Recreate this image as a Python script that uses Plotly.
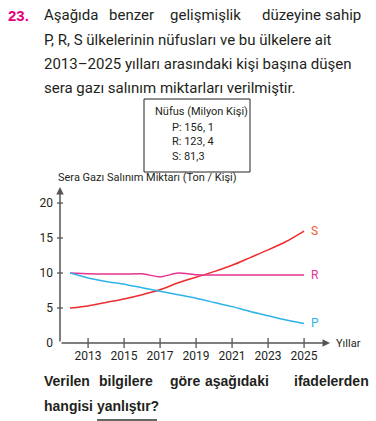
import plotly.graph_objects as go

years = [2012, 2013, 2014, 2015, 2016, 2017, 2018, 2019, 2020, 2021, 2022, 2023, 2024, 2025]
S_vals = [5.0, 5.3, 5.8, 6.3, 6.9, 7.6, 8.6, 9.4, 10.2, 11.1, 12.2, 13.3, 14.5, 16.0]
R_vals = [10.0, 9.9, 9.85, 9.85, 9.9, 9.45, 10.0, 9.75, 9.7, 9.7, 9.7, 9.7, 9.7, 9.7]
P_vals = [10.0, 9.3, 8.8, 8.4, 7.9, 7.4, 6.9, 6.4, 5.8, 5.2, 4.5, 3.9, 3.3, 2.8]
series_names = ["S", "R", "P"]
series_colors = ["#ee2b2e", "#e6338f", "#2eb3e8"]
label_colors = ["#f1592a", "#e6338f", "#2eb3e8"]
y_ticks = [0, 5, 10, 15, 20]
x_ticks = [2013, 2015, 2017, 2019, 2021, 2023, 2025]
pop_lines = ["P: 156, 1", "R: 123, 4", "S: 81,3"]

W, H = 376, 421
L, R_, T, B = 60, 46, 187, 78
PW = W - L - R_
PH = H - T - B
XR = [2011.44, 2026.44]
YR = [0, 22.29]

def px(x):
    return (x - L) / PW

def py(y):
    return (H - B - y) / PH

TXT = "#231f20"
FONT = "Roboto"
BFONT = "Liberation Sans"

fig = go.Figure()
for name, vals, col in zip(series_names, [S_vals, R_vals, P_vals], series_colors):
    fig.add_trace(go.Scatter(x=years, y=vals, mode="lines", line=dict(color=col, width=1.5, shape="spline", smoothing=0.6),
                             showlegend=False, hoverinfo="skip"))

ann = []
shapes = []

def text(x, y, s, size=15, color=TXT, anchor="left", bold=False, family=FONT):
    ann.append(dict(x=px(x), y=py(y), xref="paper", yref="paper", text=("<b>%s</b>" % s) if bold else s,
                    showarrow=False, xanchor=anchor, yanchor="middle",
                    font=dict(size=size, color=color, family=family)))

# header
text(6, 15, "23.", size=15, color="#e5007d", bold=True, family=BFONT)
line1 = [("Aşağıda", 42, "left"), ("benzer", 107, "left"), ("gelişmişlik", 168, "left"),
         ("düzeyine", 260, "left"), ("sahip", 363, "right")]
for w, x, a in line1:
    text(x, 15, w, anchor=a)
text(42, 40, "P, R, S ülkelerinin nüfusları ve bu ülkelere ait")
text(42, 64, "2013–2025 yılları arasındaki kişi başına düşen")
text(42, 88, "sera gazı salınım miktarları verilmiştir.")

# population box
shapes.append(dict(type="rect", xref="paper", yref="paper", x0=px(144), x1=px(250), y0=py(99), y1=py(172),
                   line=dict(color="#222", width=1)))
text(153, 111, "Nüfus (Milyon Kişi)", size=11)
for i, s in enumerate(pop_lines):
    text(170, 127 + i * 14.5, s, size=11)

# chart title
text(56, 177, "Sera Gazı Salınım Miktarı (Ton / Kişi)", size=11)

# series end labels
for name, vals, col in zip(series_names, [S_vals, R_vals, P_vals], label_colors):
    ann.append(dict(x=years[-1], y=vals[-1], xref="x", yref="y", text=name, showarrow=False,
                    xanchor="left", xshift=5, font=dict(size=12, color=col, family=FONT)))

# axis arrows
AX = "#555"
ann.append(dict(x=XR[1], y=0, ax=XR[0], ay=0, xref="x", yref="y", axref="x", ayref="y", text="",
                showarrow=True, arrowhead=2, arrowsize=1, arrowwidth=1.5, arrowcolor=AX))
ann.append(dict(x=XR[0], y=YR[1], ax=XR[0], ay=0, xref="x", yref="y", axref="x", ayref="y", text="",
                showarrow=True, arrowhead=2, arrowsize=1, arrowwidth=1.5, arrowcolor=AX))
ann.append(dict(x=XR[1], y=0, xref="x", yref="y", text="Yıllar", showarrow=False, xanchor="left", xshift=4,
                font=dict(size=11, color=TXT, family=FONT)))

# tick marks crossing axes
for v in y_ticks[1:]:
    shapes.append(dict(type="line", xref="paper", yref="y", x0=-3 / PW, x1=3 / PW, y0=v, y1=v,
                       line=dict(color=AX, width=1.3)))
for v in x_ticks:
    shapes.append(dict(type="line", xref="x", yref="paper", x0=v, x1=v, y0=-5 / PH, y1=5 / PH,
                       line=dict(color=AX, width=1.3)))

# question
q1 = [("Verilen", 42), ("bilgilere", 97), ("göre", 168), ("aşağıdaki", 203), ("ifadelerden", 292)]
for w, x in q1:
    text(x, 381, w, bold=True, family=BFONT, size=14)
text(42, 406, "hangisi yanlıştır?", bold=True, family=BFONT, size=14)
shapes.append(dict(type="line", xref="paper", yref="paper", x0=px(97), x1=px(157), y0=py(420), y1=py(420),
                   line=dict(color="#333", width=1.5)))

fig.update_layout(
    width=W, height=H, margin=dict(l=L, r=R_, t=T, b=B, autoexpand=False),
    paper_bgcolor="white", plot_bgcolor="white",
    xaxis=dict(range=XR, tickvals=x_ticks, ticktext=[str(v) for v in x_ticks], showgrid=False, zeroline=False,
               showline=False, ticks="", tickfont=dict(size=12, color=TXT, family=FONT), ticklabelstandoff=4),
    yaxis=dict(range=YR, tickvals=y_ticks, showgrid=False, zeroline=False, showline=False, ticks="",
               tickfont=dict(size=12, color=TXT, family=FONT), ticklabelstandoff=6),
    annotations=ann, shapes=shapes,
)
fig.write_html("out.html", config={"displayModeBar": False},
               post_script="document.body.style.margin='0';document.body.style.overflow='hidden';")
